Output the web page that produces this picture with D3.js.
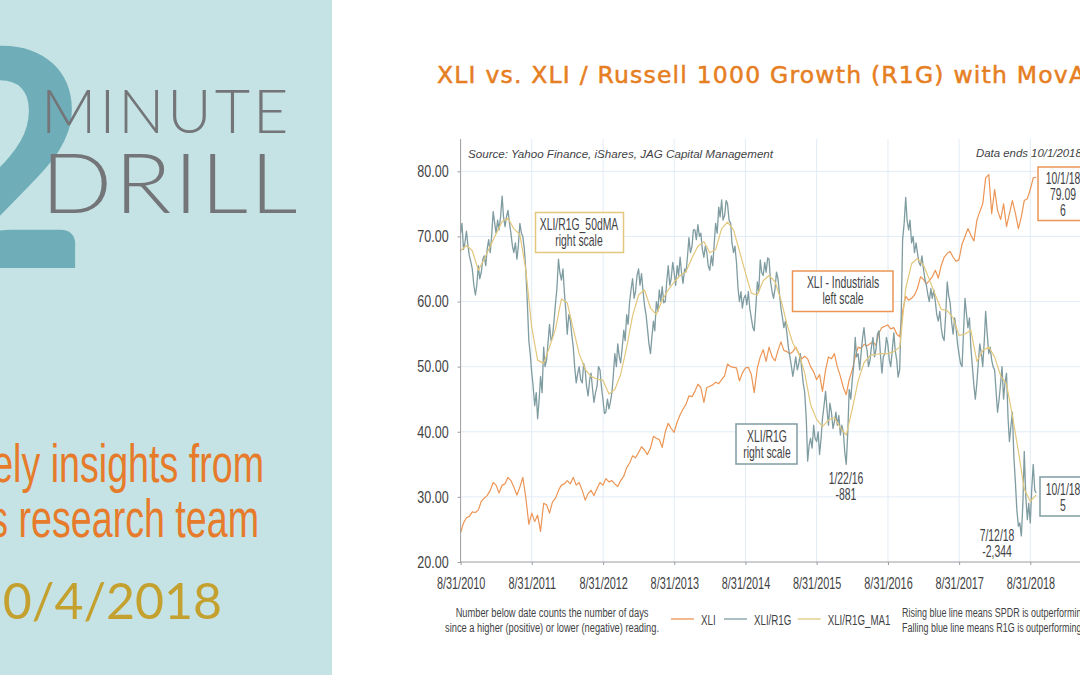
<!DOCTYPE html>
<html>
<head>
<meta charset="utf-8">
<title>XLI vs. XLI / Russell 1000 Growth</title>
<style>
html, body { margin:0; padding:0; background:#fff; overflow:hidden; }
svg { display:block; }
.narrow { font-family:"Liberation Sans",sans-serif; fill:#3f4345; transform-box:fill-box; transform:scaleX(.65); }
.mid { transform-origin:center; }
.left { transform-origin:left; }
.right { transform-origin:right; }
.axis text { font-family:"Liberation Sans",sans-serif; font-size:16.5px; fill:#3f4345; transform-box:fill-box; }
.axis.bottom text { transform-origin:center; transform:scaleX(.66); }
.axis.side text { transform-origin:right; transform:scaleX(.76); }
.axis path, .axis line { stroke:#9a9c9e; }
.grid line { stroke:#e2ecf6; }
</style>
</head>
<body>
<div id="content"></div>
<script src="https://cdnjs.cloudflare.com/ajax/libs/d3/7.8.5/d3.min.js"></script>
<script>

const width = 1080
const height = 675

// one value every half month from 8/31/2010
const xli = [
24.5,26,26.8,27,27.7,27.6,28,29.3,29.8,30.2,31,32.2,31.8,30.6,31.8,32,33,32.5,31.5,30.3,31.5,33,30,25.8,
27.5,26.2,27.2,24.7,29,28.8,27.5,29.2,29.8,31,31.8,32,32.5,32,33,31.8,32.2,31,29.5,30.5,31,30.2,31.3,32.2,
31.8,32.8,32.3,32.5,32,31.6,32.5,33.2,34.5,35.2,36.3,36,36.8,37.7,37.2,36.5,37.5,39.3,39,38.8,37.6,40,41.3,40.5,
39.9,41.5,42.6,43.5,44.2,45.5,45.4,46.2,47.3,46.8,44.5,46.8,47,47.2,47.6,47.4,48,48.6,50.4,50,49.9,49.8,47.8,49,
49.8,49.9,48.8,46,49.8,51.5,52.6,50.8,53,51.5,50.9,52.5,53.8,52.5,52.3,52,52.3,53,52,51.2,51.6,51.2,50,49.2,
48,48.8,46.2,49.5,51.5,51.2,52,50,48.5,46.8,45.7,48,49.5,51.5,53,52.8,53.4,53.2,53.5,53.8,53.3,55.2,56,56.2,
56.4,55.8,56,55,54.6,58.5,60.8,60.2,60.5,61,62,63.8,63.4,62.7,63.2,63.8,64.8,63.6,65.5,66.8,67.4,67.7,66.8,66.2,
66.4,68.8,70,71.2,70.2,69.3,72.5,73.8,75,79,79.5,73.5,77.2,74,72.6,75,71.5,73.5,75.5,73.5,71.2,73,75.5,75.8,
77.2,79,79.09
]

// the right scale is cut off in the picture, so these are given in left scale units
// one value every quarter month, 48 to the line
const r1g = [
70.5,72,68,69,70.8,68.5,67,66,65,62.5,61,62.5,65.5,63.5,64.5,66.5,67,65.5,68,69.5,67.5,70,73.8,72,70.5,72.5,71,73,76.2,73,71.5,73,74,72,70.5,68.5,67.5,69,66.5,68.5,72,70.5,70,68,65,60,54,52,
49,47,44,46,42,45,48.5,46,53,50,51,53.5,56.5,54,54.5,57,59.8,62,66.5,64.5,63.3,65,61.5,58.5,55,58,57,55,53,50,47.5,49,50,48,47.5,50.5,49.5,47,45.5,48,49,46.5,44.5,46,47,50,49.5,47,
45,42.8,43,45,43.5,44.5,46,48.5,52,50,53.5,51.5,50.6,53,55.6,54,58,56.5,60,62,63.5,60.5,61.5,64,65,62.5,64.3,61.5,59.5,58,56,53.5,52,54.5,57,55.5,60,58.5,61.8,60,62.3,59.8,60,63,65.5,62.5,63.5,66,
64.5,62.5,65.5,64,66.8,64.5,62.8,65,64.5,67,69.8,67.5,68.5,71,71,69.5,71.8,70,70.5,68,66.8,68.5,67.5,65.5,64.8,67,65.5,69,72,70.5,74.5,73,75.6,72.5,73.2,75.5,75,72.5,72,69,67.5,68.5,66,62,60,61.5,59,60.5,
61,59.5,61.5,59,57.5,56,55.5,59,63,61.5,66.4,64.5,64,66,64.5,66.7,66.5,63,61.5,60.5,62,64.5,63.5,61,59,57.5,56,57,55,53,51.5,50,48.5,50,51.5,49.5,50.5,52,49.5,47.5,46,42,35.5,38,39,37.5,41,39,
38.5,40,36.5,39,42,44,46.2,43.5,41,44.4,43,40.5,41.5,43,41,42.5,39.5,41,40,37,35,40,46.5,45,48,50,54.5,51.5,52,49.5,52,54.5,56,53.5,52.5,50,51,53,54.5,51.5,52.5,55,55.5,52,49,51.5,52,54.5,
53.5,51,50,52.5,55.2,52.5,51,48.4,49.5,58,69.5,72,76,72.5,71,72.5,69,70,67.5,69,67.5,66,65.5,67,65,63.5,62.5,61,60,62,60.5,61.8,60,58,57,58.5,56,54.5,54,58,63,61,59.8,57,55,57.5,56,53.5,
52,50.5,50,55,60.5,58,56,57.5,53,50,47,45,47.5,50.5,53.5,52,50,54,58.5,55,52,53,51,50,49.5,46,43,45,47.5,50,45,47.5,49,42,38.5,41,43,36,32,28,25.5,26,24,29,37,30,26.5,29,
26,31,35,31,30.6
]

// moving average, one value per month
const r1gMa = [
67.8,68.6,67.8,64.8,66.5,68.5,70.4,72.3,72.8,71.2,70.3,65,56,51,50.5,53,55.8,60.4,59.8,55.8,52,49.6,48.5,48.1,
47.9,45.8,46.5,48.8,53,57.8,61,61.8,59,58,60.2,61.8,63,64,64.6,66.7,68.5,69.2,67.5,68,71.2,72.2,71,67.8,
64.4,61.3,61,63.2,64,63,60.3,56.5,53.6,52,49,44.2,41.9,40.8,41.8,42.2,40.6,39.5,43.5,47.8,50.6,51.7,51.9,52,
52,52.3,53,62,65.8,66.6,65.6,63.4,61,58.8,58.6,57.5,54.8,55,55.6,50.8,52.5,53,51.5,48.6,47.3,42.5,37,31.2,
29.3,30.3
]

const xTickLabels = ["8/31/2010","8/31/2011","8/31/2012","8/31/2013","8/31/2014","8/31/2015","8/31/2016","8/31/2017","8/31/2018"]
const yTicks = [20,30,40,50,60,70,80]

const legendNames = ["XLI","XLI/R1G","XLI/R1G_MA1"]
const colors = { xli:"#ec9555", r1g:"#7f9ca1", ma:"#e2c77c" }

const parseDate = d3.timeParse("%m/%d/%Y")
const startDate = parseDate(xTickLabels[0])

const svg = d3.select("#content").append("svg")
  .attr("width", width)
  .attr("height", height)

// left panel
svg.append("rect").attr("x",0).attr("y",0).attr("width",332).attr("height",height).attr("fill","#c5e3e5")

svg.append("text").text("2")
  .attr("x",88).attr("y",268)
  .attr("text-anchor","end")
  .style("font-family","Lato").style("font-weight",900).style("font-size","303px")
  .attr("fill","#6fadb8")

svg.append("text").text("MINUTE")
  .attr("x",41).attr("y",133)
  .style("font-family","Lato").style("font-weight",300).style("font-size","61px").style("letter-spacing","3px")
  .attr("fill","#737578")
svg.append("text").text("DRILL")
  .attr("x",41).attr("y",213)
  .style("font-family","Lato").style("font-weight",300).style("font-size","83px").style("letter-spacing","2px")
  .style("transform-box","fill-box").style("transform-origin","left").style("transform","scaleX(1.13)")
  .attr("fill","#737578")

svg.append("text").attr("class","narrow right").text("Timely insights from")
  .attr("x",264).attr("y",482).attr("text-anchor","end")
  .style("font-size","53px").style("fill","#e67b2b").style("transform","scaleX(.71)")
svg.append("text").attr("class","narrow right").text("JAG's research team")
  .attr("x",259).attr("y",537).attr("text-anchor","end")
  .style("font-size","53px").style("fill","#e67b2b").style("transform","scaleX(.71)")
svg.append("text").text("10/4/2018")
  .attr("x",222).attr("y",619).attr("text-anchor","end")
  .style("font-family","Lato").style("font-size","50px")
  .attr("fill","#c4a12f")

// title
svg.append("text").text("XLI vs. XLI / Russell 1000 Growth (R1G) with MovAvg")
  .attr("x",437).attr("y",83)
  .style("font-family","DejaVu Sans").style("font-size","23.5px").style("letter-spacing","1.2px")
  .attr("fill","#e67e22").attr("stroke","#e67e22").attr("stroke-width",0.5)

// chart
const x = d3.scaleTime()
  .domain([startDate, parseDate(xTickLabels[8])])
  .range([460.6, 1030.3])
const y = d3.scaleLinear()
  .domain([20, 80])
  .range([562, 171.3])

const tickDates = xTickLabels.map(parseDate)

svg.append("g").attr("class","grid")
  .selectAll("line").data(yTicks.slice(1)).enter().append("line")
  .attr("x1",460).attr("x2",width)
  .attr("y1",d => y(d)).attr("y2",d => y(d))
svg.append("g").attr("class","grid")
  .selectAll("line").data(tickDates.slice(1)).enter().append("line")
  .attr("x1",d => x(d)).attr("x2",d => x(d))
  .attr("y1",139).attr("y2",562)

const halfMonth = (d,i) => d3.timeDay.offset(startDate, i*15.22)
const quarterMonth = (d,i) => d3.timeDay.offset(startDate, i*7.61)
const oneMonth = (d,i) => d3.timeDay.offset(startDate, i*30.44)

function drawLine(values, dateOf, color, w) {
  const line = d3.line()
    .x((d,i) => x(dateOf(d,i)))
    .y(d => y(d))
  svg.append("path").datum(values)
    .attr("fill","none")
    .attr("stroke",color)
    .attr("stroke-width",w)
    .attr("stroke-linejoin","round")
    .attr("d",line)
}
drawLine(xli, halfMonth, colors.xli, 1.2)
drawLine(r1g, quarterMonth, colors.r1g, 1.3)
drawLine(r1gMa, oneMonth, colors.ma, 1.2)

const xAxis = d3.axisBottom(x).tickValues(tickDates).tickFormat(d3.timeFormat("%-m/%-d/%Y")).tickSize(3).tickPadding(12)
const yAxis = d3.axisLeft(y).tickValues(yTicks).tickFormat(d3.format(".2f")).tickSize(3).tickPadding(9)

const gx = svg.append("g").attr("class","axis bottom").attr("transform","translate(0,562)").call(xAxis)
gx.select(".domain").attr("d","M460,0H1080")
const gy = svg.append("g").attr("class","axis side").attr("transform","translate(460.6,0)").call(yAxis)
gy.select(".domain").attr("d","M0,139V562")

// source lines
svg.append("text").text("Source: Yahoo Finance, iShares, JAG Capital Management")
  .attr("x",468).attr("y",158)
  .style("font-family","Liberation Sans").style("font-style","italic").style("font-size","11.6px").attr("fill","#3f4345")
svg.append("text").text("Data ends 10/1/2018")
  .attr("x",976).attr("y",157)
  .style("font-family","Liberation Sans").style("font-style","italic").style("font-size","11.4px").attr("fill","#3f4345")

// callout boxes
const boxes = [
  { lines:["XLI/R1G_50dMA","right scale"], x0:535.5, y0:212.5, w:88, h:40, c:colors.ma, tx:579, ty:230 },
  { lines:["XLI - Industrials","left scale"], x0:792.5, y0:271, w:100.5, h:40.5, c:colors.xli, tx:843, ty:288 },
  { lines:["XLI/R1G","right scale"], x0:736, y0:424, w:61, h:40, c:colors.r1g, tx:767, ty:442 },
  { lines:["10/1/18","79.09","6"], x0:1038, y0:167, w:60, h:53.5, c:colors.xli, tx:1063, ty:184 },
  { lines:["10/1/18","5"], x0:1040, y0:477, w:60, h:39, c:colors.r1g, tx:1063, ty:495 }
]
boxes.forEach(function(b) {
  svg.append("rect")
    .attr("x",b.x0).attr("y",b.y0).attr("width",b.w).attr("height",b.h)
    .attr("fill","#fff").attr("stroke",b.c).attr("stroke-width",1.5)
  b.lines.forEach(function(t,i) {
    svg.append("text").attr("class","narrow mid").text(t)
      .attr("x",b.tx).attr("y",b.ty+i*16)
      .attr("text-anchor","middle").style("font-size","16px")
  })
})

const notes = [
  { lines:["1/22/16","-881"], tx:846, ty:484 },
  { lines:["7/12/18","-2,344"], tx:997, ty:541 }
]
notes.forEach(function(n) {
  n.lines.forEach(function(t,i) {
    svg.append("text").attr("class","narrow mid").text(t)
      .attr("x",n.tx).attr("y",n.ty+i*16)
      .attr("text-anchor","middle").style("font-size","16px")
  })
})

// footer
svg.append("text").attr("class","narrow mid").text("Number below date counts the number of days")
  .attr("x",552).attr("y",617).attr("text-anchor","middle").style("font-size","13.5px").style("transform","scaleX(.69)")
svg.append("text").attr("class","narrow mid").text("since a higher (positive) or lower (negative) reading.")
  .attr("x",552).attr("y",632).attr("text-anchor","middle").style("font-size","13.5px").style("transform","scaleX(.69)")
svg.append("text").attr("class","narrow left").text("Rising blue line means SPDR is outperforming R1G.")
  .attr("x",902).attr("y",617).style("font-size","13.5px").style("transform","scaleX(.665)")
svg.append("text").attr("class","narrow left").text("Falling blue line means R1G is outperforming SPDR.")
  .attr("x",902).attr("y",632).style("font-size","13.5px").style("transform","scaleX(.665)")

const legendX = [671,724,797.7]
const legendColors = [colors.xli,colors.r1g,colors.ma]
legendNames.forEach(function(name,i) {
  svg.append("line")
    .attr("x1",legendX[i]).attr("x2",legendX[i]+23)
    .attr("y1",619).attr("y2",619)
    .attr("stroke",legendColors[i]).attr("stroke-width",1.3)
  svg.append("text").attr("class","narrow left").text(name)
    .attr("x",legendX[i]+30).attr("y",625).style("font-size","15px")
})

</script>
</body>
</html>
